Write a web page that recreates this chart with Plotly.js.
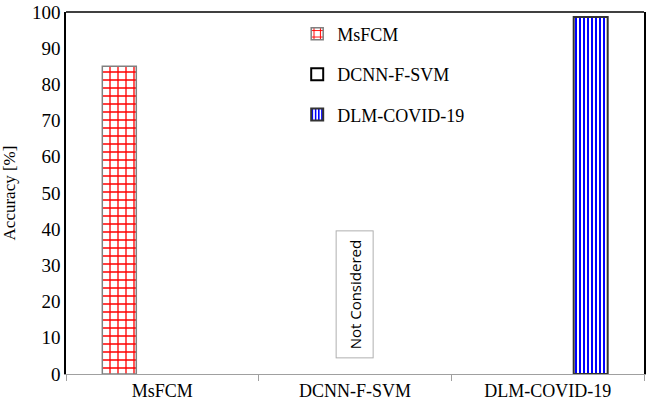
<!DOCTYPE html>
<html>
<head>
<meta charset="utf-8">
<script src="https://cdn.plot.ly/plotly-3.0.1.min.js"></script>
<style>
  body { margin: 0; background: #fff; }
  #plot { width: 646px; height: 408px; }
</style>
</head>
<body>
<div id="plot"></div>
<script>
// categories on the x axis
var methods = ["MsFCM", "DCNN-F-SVM", "DLM-COVID-19"];

// accuracy per method (DCNN-F-SVM was not considered)
var msfcmAcc = [85.0, null, null];
var dcnnAcc = [null, null, null];
var dlmAcc = [null, null, 98.6];

var serif = "Liberation Serif, Times New Roman, serif";

var trace1 = {
  x: methods,
  y: msfcmAcc,
  name: "MsFCM",
  type: "bar",
  legendgroup: "a",
  marker: {
    color: "#ffffff",
    line: { color: "#808080", width: 1.5 },
    pattern: { shape: "+", fgcolor: "#ff0000", bgcolor: "#ffffff", size: 8, solidity: 0.3 }
  }
};

var trace2 = {
  x: methods,
  y: dcnnAcc,
  name: "DCNN-F-SVM",
  type: "bar",
  legendgroup: "b",
  marker: { color: "#ffffff", line: { color: "#000000", width: 2 } }
};

var trace3 = {
  x: methods,
  y: dlmAcc,
  name: "DLM-COVID-19",
  type: "bar",
  legendgroup: "c",
  marker: {
    color: "#ffffff",
    line: { color: "#333333", width: 2 },
    pattern: { shape: "|", fgcolor: "#0000ff", bgcolor: "#ffffff", size: 4, solidity: 0.5 }
  }
};

var data = [trace1, trace2, trace3];

var layout = {
  width: 646,
  height: 408,
  margin: { l: 66, r: 2, t: 12, b: 34 },
  paper_bgcolor: "#ffffff",
  plot_bgcolor: "#ffffff",
  font: { family: serif, size: 18, color: "#000" },
  barmode: "group",
  bargap: 0.33,
  bargroupgap: 0.21,
  showlegend: true,
  legend: {
    x: 0.4, y: 0.99, xanchor: "left", yanchor: "top",
    bgcolor: "rgba(0,0,0,0)",
    font: { family: serif, size: 18, color: "#000" },
    traceorder: "grouped",
    tracegroupgap: 14
  },
  xaxis: {
    type: "category",
    showline: true,
    linecolor: "#a0a0a0",
    linewidth: 1,
    ticks: "outside",
    tickson: "boundaries",
    tickcolor: "#a0a0a0",
    ticklen: 6,
    showgrid: false,
    tickfont: { family: serif, size: 18, color: "#000" }
  },
  yaxis: {
    range: [0, 100],
    dtick: 10,
    showline: true,
    mirror: true,
    linecolor: "#000000",
    linewidth: 1.5,
    showgrid: false,
    zeroline: false,
    ticks: "",
    tickfont: { family: serif, size: 19, color: "#000" },
    title: { text: "Accuracy [%]", font: { family: serif, size: 17, color: "#000" }, standoff: 12 }
  },
  shapes: [{
    type: "line", xref: "paper", yref: "paper",
    x0: 0, x1: 1, y0: 1, y1: 1,
    line: { color: "#000000", width: 1.5 }
  }],
  annotations: [{
    x: "DCNN-F-SVM",
    y: 22,
    text: "Not Considered",
    textangle: -90,
    showarrow: false,
    font: { family: "Open Sans", size: 15, color: "#000" },
    bordercolor: "#b0b0b0",
    borderwidth: 1,
    borderpad: 8,
    bgcolor: "#ffffff"
  }]
};

Plotly.newPlot("plot", data, layout, { displayModeBar: false });
</script>
</body>
</html>
